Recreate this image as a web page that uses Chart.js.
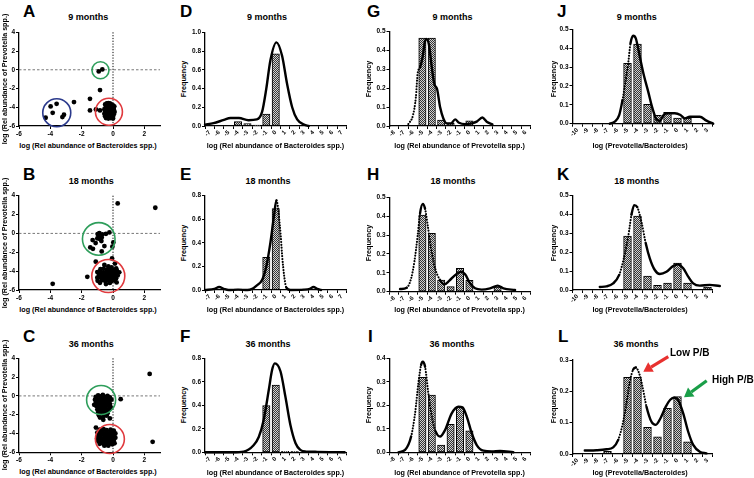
<!DOCTYPE html>
<html><head><meta charset="utf-8">
<script src="https://cdn.jsdelivr.net/npm/chart.js@4.4.1/dist/chart.umd.min.js"></script>
<style>
html,body{margin:0;padding:0;background:#fff;}
body{width:754px;height:478px;position:relative;overflow:hidden;font-family:'Liberation Sans',Arial,Helvetica,sans-serif;}
canvas{position:absolute;}
.t{position:absolute;white-space:nowrap;font-weight:bold;line-height:1;color:#000;}
</style></head><body>
<script>
// ================= DATA =================
const ageTitles = ['9 months', '18 months', '36 months'];
const panelLetters = ['A','B','C','D','E','F','G','H','I','J','K','L'];
const bacteroidesAxisTitle = 'log (Rel abundance of Bacteroides spp.)';
const prevotellaAxisTitle = 'log (Rel abundance of Prevotella spp.)';
const ratioAxisTitle = 'log (Prevotella/Bacteroides)';
const frequencyTitle = 'Frequency';
const lowPB = 'Low P/B';
const highPB = 'High P/B';

// scatter: [log Bacteroides, log Prevotella]
const scatter9 = [
 [-0.91,-0.18],[-0.68,0.04],[-0.83,-2.17],[-1.47,-3.1],[-2.49,-3.45],[-1.47,-4.34],[-1.09,-4.23],[-0.83,-4.34],
 [-3.98,-3.91],[-3.6,-3.63],[-3.85,-4.59],[-4.3,-5.12],[-3.23,-5.05],[-3.13,-4.8],
 [-0.5,-3.7],[-0.4,-3.6],[-0.3,-3.55],[-0.2,-3.6],[-0.1,-3.7],[0.0,-3.8],[-0.45,-3.95],[-0.35,-3.9],[-0.25,-3.85],
 [-0.15,-3.95],[-0.05,-4.0],[0.05,-4.05],[-0.55,-4.2],[-0.45,-4.15],[-0.35,-4.25],[-0.25,-4.1],[-0.15,-4.2],
 [-0.05,-4.3],[0.05,-4.25],[-0.5,-4.45],[-0.4,-4.4],[-0.3,-4.5],[-0.2,-4.45],[-0.1,-4.5],[0.0,-4.45],[0.1,-4.5],
 [-0.55,-4.7],[-0.45,-4.65],[-0.35,-4.75],[-0.25,-4.7],[-0.15,-4.8],[-0.05,-4.7],[0.05,-4.75],[-0.5,-4.95],
 [-0.4,-5.0],[-0.3,-4.9],[-0.2,-5.05],[-0.1,-4.95],[0.0,-5.0],[-0.45,-5.15],[-0.3,-5.2],[-0.15,-5.15],[0.0,-5.2],
 [-0.35,-3.75],[-0.12,-4.6],[-0.28,-4.3],[0.08,-3.9],[-0.42,-4.55],[-0.08,-4.15],[-0.22,-4.95]
];
const scatter18 = [
 [0.3,3.18],[2.7,2.72],[-3.85,-5.34],[-1.64,-4.6],[-0.06,-2.65],[-1.1,-3.0],
 [-0.87,0.04],[-0.68,-0.11],[-0.45,-0.04],[-0.23,0.11],[-0.91,-0.32],[-0.72,-0.42],[-1.0,-0.53],[-1.3,-0.71],
 [-1.11,-1.02],[-0.74,-0.81],[-0.55,-1.34],[-1.45,-1.48],[-1.28,-1.63],[-0.72,-1.91],[-0.04,-1.41],[0.02,-0.95],
 [-0.98,-0.07],[-0.83,-0.6],
 [-0.55,-3.35],[0.13,-3.2],[-0.3,-3.5],[-0.1,-3.6],[0.2,-3.7],[-0.8,-3.8],[-0.6,-3.75],[-0.4,-3.85],[-0.2,-3.8],
 [0.0,-3.9],[0.25,-3.95],[-1.0,-4.1],[-0.8,-4.05],[-0.6,-4.15],[-0.4,-4.1],[-0.2,-4.2],[0.0,-4.1],[0.2,-4.2],
 [0.4,-4.13],[-0.9,-4.4],[-0.7,-4.35],[-0.5,-4.45],[-0.3,-4.4],[-0.1,-4.5],[0.1,-4.4],[0.3,-4.45],[-1.0,-4.7],
 [-0.8,-4.65],[-0.6,-4.75],[-0.4,-4.7],[-0.2,-4.8],[0.0,-4.7],[0.2,-4.75],[-0.98,-5.02],[-0.7,-4.95],[-0.5,-5.05],
 [-0.3,-5.0],[-0.1,-5.05],[0.1,-5.0],[-0.83,-5.23],[-0.45,-5.37],[-0.2,-5.25],[0.23,-5.2],[-0.35,-4.25],
 [-0.15,-4.6],[-0.55,-4.3],[0.05,-4.55],[-0.25,-3.95],[-0.65,-4.55]
];
const scatter36 = [
 [2.34,2.34],[2.53,-4.89],[0.49,-0.35],[-1.09,-3.37],
 [-1.1,-0.1],[-0.95,0.05],[-0.8,-0.05],[-0.65,0.1],[-0.5,-0.1],[-0.35,0.0],[-0.2,-0.15],[-1.15,-0.4],[-1.0,-0.35],
 [-0.85,-0.45],[-0.7,-0.3],[-0.55,-0.4],[-0.4,-0.35],[-0.25,-0.5],[-0.1,-0.4],[-1.1,-0.75],[-0.95,-0.7],[-0.8,-0.8],
 [-0.65,-0.65],[-0.5,-0.75],[-0.35,-0.7],[-0.2,-0.85],[-1.05,-1.1],[-0.9,-1.05],[-0.75,-1.15],[-0.6,-1.0],
 [-0.45,-1.1],[-0.3,-1.05],[-0.15,-1.2],[-1.0,-1.45],[-0.85,-1.4],[-0.7,-1.5],[-0.55,-1.35],[-0.4,-1.5],
 [-0.25,-1.45],[-0.95,-1.8],[-0.8,-1.75],[-0.65,-1.85],[-0.5,-1.7],[-0.35,-1.85],[-0.9,-2.05],[-0.6,-2.15],
 [-0.4,-2.1],[-0.83,-2.3],[-0.62,-2.55],[-0.2,-2.4],[-1.2,-0.95],[-0.45,-0.55],
 [-0.85,-3.6],[-0.6,-3.55],[-0.4,-3.65],[-0.15,-3.6],[0.05,-3.7],[-1.0,-3.9],[-0.8,-3.85],[-0.6,-3.95],[-0.4,-3.9],
 [-0.2,-3.95],[0.0,-3.9],[0.15,-4.0],[-0.95,-4.2],[-0.75,-4.15],[-0.55,-4.25],[-0.35,-4.2],[-0.15,-4.25],[0.05,-4.2],
 [-1.0,-4.5],[-0.8,-4.45],[-0.6,-4.55],[-0.4,-4.5],[-0.2,-4.55],[0.0,-4.5],[0.15,-4.45],[-0.95,-4.8],[-0.75,-4.75],
 [-0.55,-4.85],[-0.35,-4.8],[-0.15,-4.85],[0.05,-4.8],[-0.85,-5.1],[-0.65,-5.05],[-0.45,-5.15],[-0.25,-5.1],
 [-0.05,-5.15],[0.1,-5.05],[-0.55,-5.3],[-0.3,-5.3],[-0.7,-3.7],[-0.25,-4.05],[-0.5,-4.65],[-0.1,-4.35],
 [-0.9,-4.65],[-0.45,-4.0]
];

// histogram bins (tick labels)
const bacteroidesBins = [-7,-6,-5,-4,-3,-2,-1,0,1,2,3,4,5,6,7];
const prevotellaBins  = [-8,-7,-6,-5,-4,-3,-2,-1,0,1,2,3,4,5,6];
const ratioBins       = [-10,-9,-8,-7,-6,-5,-4,-3,-2,-1,0,1,2,3];

// bar frequencies (aligned with bins)
const bactFreq9   = [null,null,null,0.046,0.025,0.01,0.128,0.77,null,null,null,null,null,null,null];
const bactFreq18  = [null,null,null,0.008,null,null,0.277,0.69,null,null,0.008,null,null,null,null];
const bactFreq36  = [null,null,null,null,null,null,0.397,0.573,0.008,0.008,null,null,null,null,null];
const prevFreq9   = [null,null,null,0.465,0.465,0.031,0.016,null,0.028,null,null,null,null,null,null];
const prevFreq18  = [null,null,null,0.406,0.309,0.062,0.027,0.124,0.06,null,null,0.025,null,null,null];
const prevFreq36  = [null,null,null,0.319,0.244,0.031,0.119,0.191,0.091,null,null,null,null,null,null];
const ratioFreq9  = [null,null,null,null,null,0.32,0.422,0.102,0.044,0.06,0.03,0.03,null,null];
const ratioFreq18 = [null,null,null,null,null,0.286,0.392,0.074,0.025,0.037,0.143,0.037,null,0.016];
const ratioFreq36 = [null,null,null,0.0085,null,0.245,0.245,0.085,0.055,0.146,0.183,0.039,null,null];

// density curves [x, frequency]
const bactCurve9 = [[-7.5,0.015],[-6.6,0.03],[-5.5,0.065],[-4.8,0.085],[-3.9,0.085],[-2.9,0.062],[-2.0,0.07],[-1.45,0.15],
 [-1.0,0.4],[-0.57,0.7],[0.07,0.893],[0.67,0.75],[1.2,0.45],[1.74,0.2],[2.27,0.07],[3.0,0.015],[3.5,0.0]];
const bactCurve18 = [[-7.5,0.0],[-6.5,0.01],[-6.0,0.025],[-5.5,0.01],[-5.0,0.0],[-4.0,0.003],[-3.0,0.0],[-2.5,0.01],
 [-2.0,0.04],[-1.45,0.085],[-1.0,0.2],[-0.57,0.4],[-0.2,0.62],[0.07,0.76],[0.43,0.55],[0.78,0.2],[1.13,0.02],
 [1.56,0.0],[3.0,0.003],[3.6,0.01],[4.0,0.025],[4.4,0.01],[4.8,0.0]];
const bactCurve36 = [[-7.5,0],[-4.6,0],[-3.4,0.006],[-2.35,0.06],[-1.8,0.13],[-1.28,0.275],[-0.74,0.53],[-0.39,0.7],
 [-0.1,0.757],[0.5,0.69],[1.03,0.47],[1.56,0.23],[2.1,0.077],[2.6,0.02],[3.2,0.006],[4.4,0.004],[7.3,0]];
const prevCurve9 = [[-6.5,0.01],[-6.0,0.057],[-5.7,0.15],[-5.5,0.28],[-5.25,0.31],[-4.96,0.37],[-4.72,0.45],[-4.54,0.46],
 [-4.3,0.43],[-4.0,0.31],[-3.72,0.22],[-3.44,0.196],[-3.12,0.1],[-2.77,0.04],[-2.4,0.014],[-1.95,0.014],[-1.52,0.035],
 [-1.1,0.017],[-0.46,0.01],[0.25,0.014],[0.78,0.023],[1.38,0.045],[1.84,0.023],[2.45,0.009]];
const prevCurve18 = [[-7.38,0.014],[-6.67,0.021],[-6.2,0.07],[-5.85,0.16],[-5.5,0.3],[-5.25,0.415],[-4.96,0.465],
 [-4.72,0.44],[-4.43,0.35],[-4.08,0.23],[-3.65,0.124],[-3.12,0.062],[-2.66,0.039],[-2.16,0.057],[-1.52,0.088],
 [-0.89,0.106],[-0.46,0.092],[0.07,0.044],[0.6,0.018],[1.31,0.011],[2.2,0.018],[3.01,0.032],[3.62,0.018],[4.86,0.009]];
const prevCurve36 = [[-7.55,0],[-6.84,0.01],[-6.2,0.067],[-5.78,0.166],[-5.43,0.294],[-5.14,0.372],[-4.96,0.386],
 [-4.72,0.365],[-4.36,0.25],[-4.0,0.152],[-3.58,0.088],[-3.12,0.067],[-2.59,0.095],[-1.88,0.166],[-1.17,0.194],
 [-0.74,0.191],[-0.28,0.152],[0.25,0.081],[0.78,0.031],[1.49,0.007],[2.38,0.004],[3.26,0.006],[4.68,0]];
const ratioCurve9 = [[-6.77,0],[-6.27,0.011],[-5.83,0.046],[-5.5,0.125],[-5.23,0.214],[-4.93,0.32],[-4.7,0.426],
 [-4.43,0.466],[-4.17,0.452],[-3.77,0.355],[-3.37,0.258],[-2.93,0.17],[-2.5,0.081],[-2.1,0.023],[-1.77,0.016],
 [-1.37,0.046],[-0.93,0.055],[-0.27,0.055],[0.3,0.046],[0.73,0.028],[1.23,0.037],[2.23,0.037],[2.9,0.016],[3.57,0]];
const ratioCurve18 = [[-7.77,0.016],[-7.1,0.019],[-6.43,0.035],[-5.83,0.08],[-5.37,0.168],[-4.93,0.283],[-4.6,0.4],
 [-4.33,0.45],[-4.03,0.44],[-3.6,0.36],[-3.17,0.247],[-2.77,0.168],[-2.27,0.106],[-1.77,0.085],[-1.1,0.097],
 [-0.43,0.127],[0.07,0.136],[0.57,0.115],[1.07,0.071],[1.57,0.035],[2.23,0.023],[3.23,0.027],[4.23,0.021],[5.4,0.018]];
const ratioCurve36 = [[-9.27,0.011],[-8.1,0.012],[-7.1,0.015],[-6.43,0.021],[-5.93,0.045],[-5.5,0.093],[-5.1,0.162],
 [-4.77,0.231],[-4.43,0.27],[-4.17,0.276],[-3.83,0.257],[-3.5,0.215],[-3.1,0.151],[-2.6,0.103],[-2.17,0.093],
 [-1.7,0.114],[-1.17,0.151],[-0.7,0.174],[-0.33,0.18],[0.07,0.172],[0.57,0.13],[1.07,0.071],[1.57,0.029],
 [2.23,0.007],[2.9,0.002]];

// ================= LAYOUT / STYLE =================
const GREEN = '#2e9e5b', RED = '#e03a3e', BLUE = '#2b3a8c';
const circleMarks = {
  A: [{x:-0.8,y:-0.05,r:8.5,color:GREEN},{x:-0.26,y:-4.48,r:13.5,color:RED},{x:-3.59,y:-4.59,r:14,color:BLUE}],
  B: [{x:-0.91,y:-0.58,r:16.3,color:GREEN},{x:-0.3,y:-4.52,r:16.5,color:RED}],
  C: [{x:-0.76,y:-0.43,r:14.5,color:GREEN},{x:-0.2,y:-4.59,r:14.5,color:RED}]
};
const dottedRanges = {
  D: [], E: [[0.1,1.2]], F: [],
  G: [[-6.7,-5.3]], H: [[-6.6,-5.2],[-4.6,-3.3]], I: [[-6.3,-5.2],[-4.8,-3.6]],
  J: [[-5.6,-4.6]], K: [[-5.9,-4.5],[-3.9,-3.0]], L: [[-5.9,-4.6],[-4.0,-3.0]]
};
const arrowMarks = [
  {from:[-0.92,0.3105], to:[-3.42,0.2627], color:'#e8312f'},
  {from:[2.92,0.234], to:[0.65,0.181], color:'#1a9e48'}
];

Chart.defaults.font.family = "'Liberation Sans', Arial, Helvetica, sans-serif";
Chart.defaults.font.weight = 'bold';
Chart.defaults.color = '#000';
Chart.defaults.animation = false;

function addText(txt, x, y, size, mode, rotate) {
  const d = document.createElement('div');
  d.className = 't';
  d.textContent = txt;
  d.style.fontSize = size + 'px';
  d.style.left = x + 'px';
  d.style.top = y + 'px';
  let tr = mode === 'center' ? 'translate(-50%,-50%)' : 'translate(0,-50%)';
  if (rotate) tr += ' rotate(-90deg)';
  d.style.transform = tr;
  document.body.appendChild(d);
}

function makeCanvas(area, yWmin, xHmin, padT, padR) {
  const cl = Math.floor(area.l - yWmin), ct = Math.floor(area.t - padT);
  const cr = Math.ceil(area.r + padR), cb = Math.ceil(area.b + xHmin);
  const c = document.createElement('canvas');
  c.width = cr - cl; c.height = cb - ct;
  c.style.left = cl + 'px'; c.style.top = ct + 'px';
  c.style.width = (cr - cl) + 'px'; c.style.height = (cb - ct) + 'px';
  document.body.appendChild(c);
  return {c, yW: area.l - cl, xH: cb - area.b, padT: area.t - ct, padR: cr - area.r};
}

function axisBase(size) {
  return {
    grid: {display:true, drawOnChartArea:false, drawTicks:true, tickLength:3, color:'#000', lineWidth:1},
    border: {display:true, color:'#000', width:1.3},
    ticks: {color:'#000', font:{size:size, weight:'bold'}, padding:1}
  };
}

const patternCache = new WeakMap();
function hatchFor(ctx2d) {
  if (patternCache.has(ctx2d)) return patternCache.get(ctx2d);
  const p = document.createElement('canvas'); p.width = 2; p.height = 2;
  const g = p.getContext('2d');
  g.fillStyle = '#d2d2d2'; g.fillRect(0,0,2,2);
  g.fillStyle = '#363636'; g.fillRect(0,0,1,1); g.fillRect(1,1,1,1);
  const pat = ctx2d.createPattern(p, 'repeat');
  patternCache.set(ctx2d, pat);
  return pat;
}

function scatterDecor(circles) {
  return {
    id: 'decor',
    beforeDatasetsDraw(chart) {
      const {ctx, chartArea:a, scales:{x, y}} = chart;
      ctx.save();
      ctx.strokeStyle = '#555'; ctx.lineWidth = 0.8; ctx.setLineDash([2.5,2]);
      const y0 = y.getPixelForValue(0);
      ctx.beginPath(); ctx.moveTo(a.left, y0); ctx.lineTo(a.right, y0); ctx.stroke();
      ctx.strokeStyle = '#000'; ctx.lineWidth = 1; ctx.setLineDash([1.2,1.6]);
      const x0 = x.getPixelForValue(0);
      ctx.beginPath(); ctx.moveTo(x0, a.top); ctx.lineTo(x0, a.bottom); ctx.stroke();
      ctx.restore();
    },
    afterDatasetsDraw(chart) {
      const {ctx, scales:{x, y}} = chart;
      ctx.save(); ctx.lineWidth = 1.6;
      for (const c of circles) {
        ctx.strokeStyle = c.color;
        ctx.beginPath();
        ctx.arc(x.getPixelForValue(c.x), y.getPixelForValue(c.y), c.r, 0, Math.PI*2);
        ctx.stroke();
      }
      ctx.restore();
    }
  };
}

function scatterPanel(letter, pts, area) {
  const b = makeCanvas(area, 19, 14, 6, 4);
  const xs = axisBase(6.5), ys = axisBase(6.5);
  new Chart(b.c, {
    type: 'scatter',
    data: {datasets: [{data: pts.map(p => ({x:p[0], y:p[1]})), backgroundColor:'#000', borderColor:'#000', borderWidth:0, pointRadius:2.4}]},
    options: {
      responsive:false, devicePixelRatio:1, animation:false,
      layout: {padding:{top:b.padT, right:b.padR, left:0, bottom:0}},
      plugins: {legend:{display:false}, tooltip:{enabled:false}},
      scales: {
        x: Object.assign(xs, {type:'linear', min:-6, max:3,
             ticks: Object.assign(xs.ticks, {stepSize:2, includeBounds:false}),
             afterFit: s => { s.height = b.xH; }}),
        y: Object.assign(ys, {type:'linear', min:-6, max:4,
             ticks: Object.assign(ys.ticks, {stepSize:2}),
             afterFit: s => { s.width = b.yW; }})
      }
    },
    plugins: [scatterDecor(circleMarks[letter])]
  });
}

function arrowPlugin(arrows) {
  return {
    id: 'arrows',
    afterDraw(chart) {
      const ctx = chart.ctx, xs = chart.scales.x, ys = chart.scales.y;
      for (const a of arrows) {
        const x1 = xs.getPixelForValue(a.from[0]), y1 = ys.getPixelForValue(a.from[1]);
        const x2 = xs.getPixelForValue(a.to[0]), y2 = ys.getPixelForValue(a.to[1]);
        const ang = Math.atan2(y2 - y1, x2 - x1);
        const head = 9, hw = 5.5;
        const bx = x2 - head*Math.cos(ang), by = y2 - head*Math.sin(ang);
        ctx.save();
        ctx.strokeStyle = a.color; ctx.fillStyle = a.color; ctx.lineWidth = 3.2;
        ctx.beginPath(); ctx.moveTo(x1, y1); ctx.lineTo(bx, by); ctx.stroke();
        ctx.beginPath(); ctx.moveTo(x2, y2);
        ctx.lineTo(bx - hw*Math.sin(ang), by + hw*Math.cos(ang));
        ctx.lineTo(bx + hw*Math.sin(ang), by - hw*Math.cos(ang));
        ctx.closePath(); ctx.fill();
        ctx.restore();
      }
    }
  };
}

function histPanel(letter, bins, freq, curve, area, yMax, padR, extraPlugins) {
  const b = makeCanvas(area, 16, 16, 6, padR || 7);
  const xs = axisBase(6), ys = axisBase(6.5);
  const ranges = dottedRanges[letter] || [];
  const isDotted = ctx => {
    const m = (ctx.p0.parsed.x + ctx.p1.parsed.x) / 2;
    return ranges.some(r => m >= r[0] && m <= r[1]);
  };
  const barPx = (area.r - area.l) / bins.length * 0.78;
  const barData = [];
  bins.forEach((v, i) => { if (freq[i] != null) barData.push({x: v, y: freq[i]}); });
  new Chart(b.c, {
    type: 'bar',
    data: {
      datasets: [
        {type:'line', order:0, clip:false,
         data: curve.map(p => ({x:p[0], y:p[1]})),
         borderColor:'#000', borderWidth:2.4, pointRadius:0, fill:false,
         cubicInterpolationMode:'monotone', borderCapStyle:'round', borderJoinStyle:'round',
         segment: {borderDash: ctx => isDotted(ctx) ? [0.1, 2.7] : undefined,
                   borderWidth: ctx => isDotted(ctx) ? 2.1 : undefined}},
        {type:'bar', order:1, data: barData,
         backgroundColor: c => hatchFor(c.chart.ctx), borderColor:'#000', borderWidth:1, borderSkipped:false,
         barThickness: barPx, grouped:false}
      ]
    },
    options: {
      responsive:false, devicePixelRatio:1, animation:false,
      layout: {padding:{top:b.padT, right:b.padR, left:0, bottom:0}},
      plugins: {legend:{display:false}, tooltip:{enabled:false}},
      scales: {
        x: Object.assign(xs, {type:'linear', offset:false,
             min: bins[0] - 0.5, max: bins[bins.length-1] + 0.5,
             afterBuildTicks: s => { s.ticks = bins.map(v => ({value: v})); },
             ticks: Object.assign(xs.ticks, {minRotation:45, maxRotation:45, autoSkip:false, padding:0,
                                              callback: v => String(v)}),
             afterFit: s => { s.height = b.xH; }}),
        y: Object.assign(ys, {type:'linear', min:0, max:yMax,
             ticks: Object.assign(ys.ticks, {stepSize: yMax > 0.6 ? 0.2 : 0.1, callback: v => Number(v).toFixed(1)}),
             afterFit: s => { s.width = b.yW; }})
      }
    },
    plugins: extraPlugins || []
  });
}

// ---------- scatter panels ----------
const scatterAreas = [{l:19,t:32.3,r:160,b:126},{l:19,t:195.7,r:160,b:290},{l:19,t:358.3,r:160,b:452.3}];
scatterPanel('A', scatter9, scatterAreas[0]);
scatterPanel('B', scatter18, scatterAreas[1]);
scatterPanel('C', scatter36, scatterAreas[2]);

// ---------- histogram panels ----------
histPanel('D', bacteroidesBins, bactFreq9,  bactCurve9,  {l:205,t:32.3,r:346.5,b:126}, 1.0);
histPanel('E', bacteroidesBins, bactFreq18, bactCurve18, {l:205,t:195.7,r:346.5,b:290}, 0.8);
histPanel('F', bacteroidesBins, bactFreq36, bactCurve36, {l:205,t:358.3,r:346.5,b:452.3}, 0.8);
histPanel('G', prevotellaBins, prevFreq9,  prevCurve9,  {l:389.5,t:31.5,r:530.5,b:126}, 0.5);
histPanel('H', prevotellaBins, prevFreq18, prevCurve18, {l:389.5,t:197.3,r:530.5,b:291.7}, 0.5);
histPanel('I', prevotellaBins, prevFreq36, prevCurve36, {l:389.5,t:358.3,r:530.5,b:452.3}, 0.4);
histPanel('J', ratioBins, ratioFreq9,  ratioCurve9,  {l:572.5,t:29.3,r:712.5,b:123.7}, 0.5);
histPanel('K', ratioBins, ratioFreq18, ratioCurve18, {l:572.5,t:195.7,r:712.5,b:290}, 0.5, 26);
histPanel('L', ratioBins, ratioFreq36, ratioCurve36, {l:572.5,t:360,r:712.5,b:454}, 0.3, 8, [arrowPlugin(arrowMarks)]);

// ---------- texts ----------
const letterPos = [[23,11],[23,174],[23,336],[180,11],[180,174],[180,336],[367,11],[367,174],[368,336],[557,11],[557,174],[558,336]];
panelLetters.forEach((L, i) => addText(L, letterPos[i][0], letterPos[i][1], 17, 'left'));

const titleY = [17.3, 181, 344];
const titleX = [[88.3,91.3,91.3],[267,268,268],[452.5,453,452],[636.7,636.7,636]];
for (let col = 0; col < 4; col++) for (let row = 0; row < 3; row++)
  addText(ageTitles[row], titleX[col][row], titleY[row], 9, 'center');

const xTitleY = [[145.7,310,471.7],[145.7,310,473.3],[145.7,310,473.3],[145.7,310,473.3]];
const xTitleX = [88, 275.5, 459.5, 640];
const xTitles = [bacteroidesAxisTitle, bacteroidesAxisTitle, prevotellaAxisTitle, ratioAxisTitle];
for (let col = 0; col < 4; col++) for (let row = 0; row < 3; row++)
  addText(xTitles[col], xTitleX[col], xTitleY[col][row], 7.2, 'center');

const rowCenters = [79.2, 242.9, 405.3];
for (let row = 0; row < 3; row++) {
  addText(prevotellaAxisTitle, 5, rowCenters[row], 7.2, 'center', true);
  addText(frequencyTitle, 184, rowCenters[row], 7.2, 'center', true);
  addText(frequencyTitle, 369, rowCenters[row], 7.2, 'center', true);
  addText(frequencyTitle, 554, rowCenters[row], 7.2, 'center', true);
}
addText(lowPB, 670, 353.3, 10, 'left');
addText(highPB, 712, 380, 10, 'left');
</script>
</body></html>
